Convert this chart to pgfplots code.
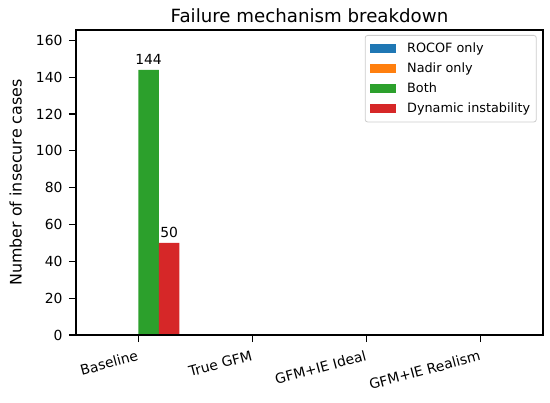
\documentclass[border=0pt]{standalone}
\usepackage{pgfplots}
\pgfplotsset{compat=1.18}
\usepackage{fontspec}
\setmainfont{DejaVu Sans}
\definecolor{tabblue}{HTML}{1F77B4}
\definecolor{taborange}{HTML}{FF7F0E}
\definecolor{tabgreen}{HTML}{2CA02C}
\definecolor{tabred}{HTML}{D62728}
\begin{document}
\begin{tikzpicture}
\begin{axis}[
  scale only axis,
  width=467pt, height=305pt,
  xmin=-0.546, xmax=3.546,
  ymin=0, ymax=165.6,
  ybar, bar width=0.18,
  axis on top,
  xtick={0,1,2,3},
  xticklabels={Baseline,True GFM,GFM+IE Ideal,GFM+IE Realism},
  ytick={0,20,40,60,80,100,120,140,160},
  x tick label style={rotate=15, anchor=north east, inner sep=1pt, yshift=-6pt, xshift=-3pt},
  y tick label style={xshift=-3pt},
  tick label style={font=\fontsize{13.9}{16}\selectfont},
  /pgf/number format/assume math mode=true,
  tick align=outside, tick pos=lower,
  major tick length=7pt,
  every tick/.style={black, line width=1.2pt},
  axis line style={line width=1.2pt},
  ylabel={Number of insecure cases},
  ylabel style={font=\fontsize{15.9}{18}\selectfont, at={(rel axis cs:0,0.5)}, anchor=south, yshift=54pt, inner sep=0pt},
  title={Failure mechanism breakdown},
  title style={font=\fontsize{18.2}{21}\selectfont, yshift=-2pt},
  legend style={at={(0.9865,0.9836)}, anchor=north east, draw=black!20, line width=0.8pt, rounded corners=2.5pt,
    fill=white, font=\fontsize{12.8}{15}\selectfont, row sep=6.9pt, inner xsep=5pt, inner ysep=6.5pt,
    nodes={inner sep=1pt}},
  legend cell align=left,
  legend image code/.code={\fill[#1, sharp corners] (0pt,-4.6pt) rectangle (26pt,4.6pt); \path (36pt,0pt);},
  point meta=explicit symbolic,
  nodes near coords,
  every node near coord/.append style={font=\fontsize{13.9}{16}\selectfont, inner sep=2pt, yshift=3.5pt},
  clip=false,
]
\addplot[fill=tabblue, draw=none, bar shift=-0.27] coordinates {(0,0) [] (1,0) [] (2,0) [] (3,0) []};
\addlegendentry{ROCOF only}
\addplot[fill=taborange, draw=none, bar shift=-0.09] coordinates {(0,0) [] (1,0) [] (2,0) [] (3,0) []};
\addlegendentry{Nadir only}
\addplot[fill=tabgreen, draw=none, bar shift=0.09] coordinates {(0,144) [144] (1,0) [] (2,0) [] (3,0) []};
\addlegendentry{Both}
\addplot[fill=tabred, draw=none, bar shift=0.27] coordinates {(0,50) [50] (1,0) [] (2,0) [] (3,0) []};
\addlegendentry{Dynamic instability}
\coordinate (bl) at (rel axis cs:0,0);
\coordinate (tr) at (rel axis cs:1,1);
\end{axis}
\pgfresetboundingbox
\path ([xshift=-76pt,yshift=-68pt]bl) rectangle ([xshift=7pt,yshift=30pt]tr);
\end{tikzpicture}
\end{document}
